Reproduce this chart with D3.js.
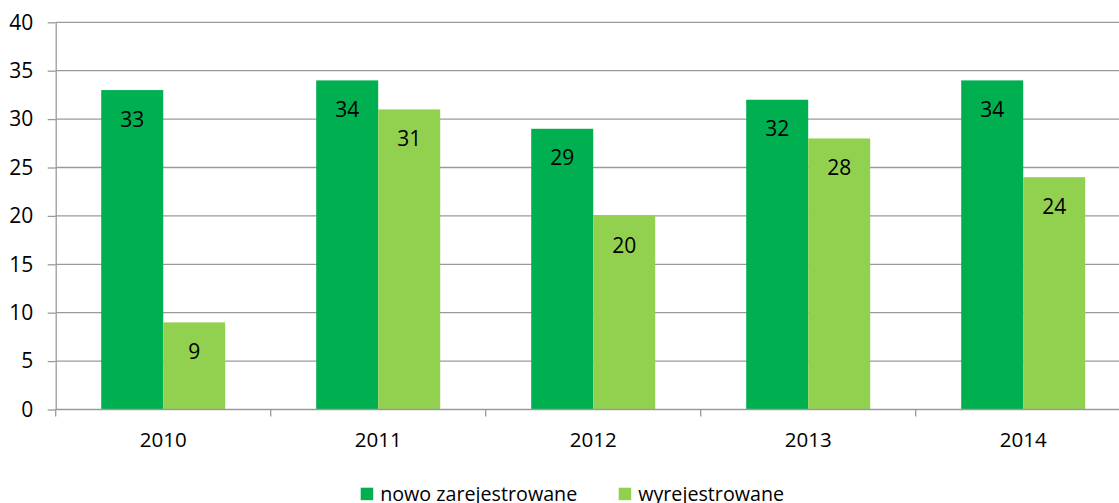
<!DOCTYPE html>
<html><head><meta charset="utf-8">
<script src="https://cdn.jsdelivr.net/npm/d3@7"></script>
<style>body{margin:0;background:#fff;} svg{display:block;font-family:"Open Sans",sans-serif;}</style>
</head><body>
<svg id="c" width="1119" height="503"></svg>
<script>
const categories = ["2010","2011","2012","2013","2014"];
const seriesNames = ["nowo zarejestrowane","wyrejestrowane"];
const nowo = [33,34,29,32,34];
const wyrej = [9,31,20,28,24];
const yTicks = [0,5,10,15,20,25,30,35,40];
const colors = ["#00B050","#92D050"];

const svg = d3.select("#c");
const x0 = d3.scaleBand().domain(categories).range([55.7,1130.7]).paddingInner(0).paddingOuter(0);
const x1 = d3.scaleBand().domain([0,1]).range([45.5,169.5]);
const y = d3.scaleLinear().domain([0,40]).range([409.5,22.3]);
const grid = "#9a9a9a";

svg.append("g").selectAll("line").data(yTicks.filter(d=>d>0)).join("line")
  .attr("x1",55.7).attr("x2",1119).attr("y1",d=>y(d)).attr("y2",d=>y(d))
  .attr("stroke",grid).attr("stroke-width",1.3);

const ya = svg.append("g").attr("transform","translate(55.7,0)")
  .call(d3.axisLeft(y).tickValues(yTicks).tickSize(8).tickPadding(14.4).tickSizeOuter(0));
ya.select(".domain").attr("stroke",grid).attr("stroke-width",1.3);
ya.selectAll(".tick line").attr("stroke",grid).attr("stroke-width",1.3);
ya.selectAll("text").attr("font-size","21px").attr("fill","#000").attr("font-family","Open Sans");

const data = categories.map((c,i)=>({c,vals:[nowo[i],wyrej[i]]}));
const g = svg.append("g").selectAll("g").data(data).join("g")
  .attr("transform",d=>`translate(${x0(d.c)},0)`);
g.selectAll("rect").data(d=>d.vals.map((v,k)=>({v,k}))).join("rect")
  .attr("x",d=>x1(d.k)).attr("width",x1.bandwidth())
  .attr("y",d=>y(d.v)).attr("height",d=>y(0)-y(d.v))
  .attr("fill",d=>colors[d.k]);
g.selectAll("text").data(d=>d.vals.map((v,k)=>({v,k}))).join("text")
  .attr("x",d=>x1(d.k)+x1.bandwidth()/2).attr("y",d=>y(d.v)+36.7)
  .attr("text-anchor","middle").attr("font-size","21px").attr("fill","#000")
  .text(d=>d.v);

const xa = svg.append("g").attr("transform","translate(0,409.5)");
xa.append("line").attr("x1",55.7).attr("x2",1119).attr("stroke",grid).attr("stroke-width",1.3);
xa.selectAll("line.t").data(d3.range(6)).join("line").attr("class","t")
  .attr("x1",i=>55.7+i*x0.bandwidth()).attr("x2",i=>55.7+i*x0.bandwidth())
  .attr("y1",0).attr("y2",7).attr("stroke",grid).attr("stroke-width",1.3);
xa.selectAll("text").data(categories).join("text")
  .attr("x",d=>x0(d)+x0.bandwidth()/2).attr("y",37.2)
  .attr("text-anchor","middle").attr("font-size","20.5px").attr("fill","#000").text(d=>d);

const lx = [360.7,618.7];
const lg = svg.append("g").selectAll("g").data(seriesNames).join("g")
  .attr("transform",(d,i)=>`translate(${lx[i]},487.7)`);
lg.append("rect").attr("width",12.5).attr("height",12.5).attr("fill",(d,i)=>colors[i]);
lg.append("text").attr("x",19.5).attr("y",13).attr("font-size","19.7px").attr("fill","#000").text(d=>d);
</script>
</body></html>
